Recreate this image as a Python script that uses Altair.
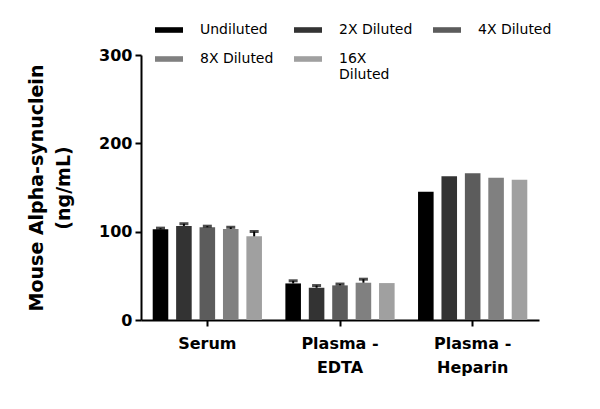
import altair as alt
import pandas as pd

samples = ['Serum', 'Plasma -|EDTA', 'Plasma -|Heparin']
dilutions = ['Undiluted', '2X Diluted', '4X Diluted', '8X Diluted', '16X Diluted']
grey_palette = ['#000000', '#333333', '#5c5c5c', '#808080', '#a0a0a0']

# mean concentration (ng/mL), one list per sample, ordered as dilutions
serum_mean = [102.7, 106.5, 105.0, 103.0, 94.7]
edta_mean = [41.4, 36.5, 39.2, 42.2, 41.8]
heparin_mean = [145.3, 162.8, 166.2, 161.0, 158.7]

# upper error (SD)
serum_err = [1.3, 2.5, 1.2, 2.0, 5.5]
edta_err = [3.0, 2.5, 1.5, 4.0, 0.0]
heparin_err = [0.0, 0.0, 0.0, 0.0, 0.0]

rows = []
for sample, means, errs in zip(samples, [serum_mean, edta_mean, heparin_mean],
                               [serum_err, edta_err, heparin_err]):
    for dil, m, e in zip(dilutions, means, errs):
        rows.append({'Sample': sample, 'Dilution': dil, 'Mean': m, 'Err': e, 'Top': m + e})
df = pd.DataFrame(rows)

x_enc = alt.X('Sample:N', sort=samples, title=None,
              scale=alt.Scale(paddingInner=0, paddingOuter=0),
              axis=alt.Axis(labelExpr="split(datum.label, '|')", labelAngle=0,
                            labelFontSize=16, labelFontWeight='bold', labelColor='black',
                            labelLineHeight=24, labelPadding=9, labelBaseline='top',
                            tickSize=6, tickWidth=2, tickColor='black',
                            domainWidth=2, domainColor='black'))
off_enc = alt.XOffset('Dilution:N', sort=dilutions,
                      scale=alt.Scale(paddingInner=0.335, paddingOuter=0.5))

bars = alt.Chart(df).mark_bar().encode(
    x=x_enc,
    xOffset=off_enc,
    y=alt.Y('Mean:Q', title=['Mouse Alpha-synuclein', '(ng/mL)'],
            scale=alt.Scale(domain=[0, 300], nice=False),
            axis=alt.Axis(values=[0, 100, 200, 300], grid=False,
                          labelFontSize=16, labelFontWeight='bold', labelColor='black',
                          labelPadding=3, tickSize=6, tickWidth=2, tickColor='black',
                          domainWidth=2, domainColor='black',
                          titleFontSize=19, titleFontWeight='bold', titleColor='black',
                          titleLineHeight=27, titlePadding=25)),
    color=alt.Color('Dilution:N', sort=dilutions, title=None,
                    scale=alt.Scale(domain=dilutions, range=grey_palette),
                    legend=alt.Legend(orient='none', legendX=14, legendY=-39,
                                      direction='horizontal', columns=3,
                                      columnPadding=20, rowPadding=8,
                                      symbolType='M-1,-0.2H1V0.2H-1Z', symbolSize=784,
                                      symbolStrokeWidth=0, labelOffset=17,
                                      labelFontSize=14, labelColor='black',
                                      labelExpr="datum.label == '16X Diluted' ? ['16X', 'Diluted'] : datum.label",
                                      padding=0))
)

err_df = df[df['Err'] > 0]
rules = alt.Chart(err_df).mark_rule(color='black', strokeWidth=2).encode(
    x=alt.X('Sample:N', sort=samples),
    xOffset=off_enc,
    y='Mean:Q',
    y2='Top:Q'
)
caps = alt.Chart(err_df).mark_tick(color='black', thickness=3, size=9).encode(
    x=alt.X('Sample:N', sort=samples),
    xOffset=off_enc,
    y='Top:Q'
)

chart = alt.layer(bars, rules, caps).properties(
    width=398,
    height=265,
    autosize=alt.AutoSizeParams(type='none'),
    padding={'left': 133, 'top': 47, 'right': 53, 'bottom': 81}
).configure(
    font='DejaVu Sans'
).configure_view(
    strokeWidth=0
)

chart.save("out.html", embed_options={"renderer": "svg", "actions": False})
